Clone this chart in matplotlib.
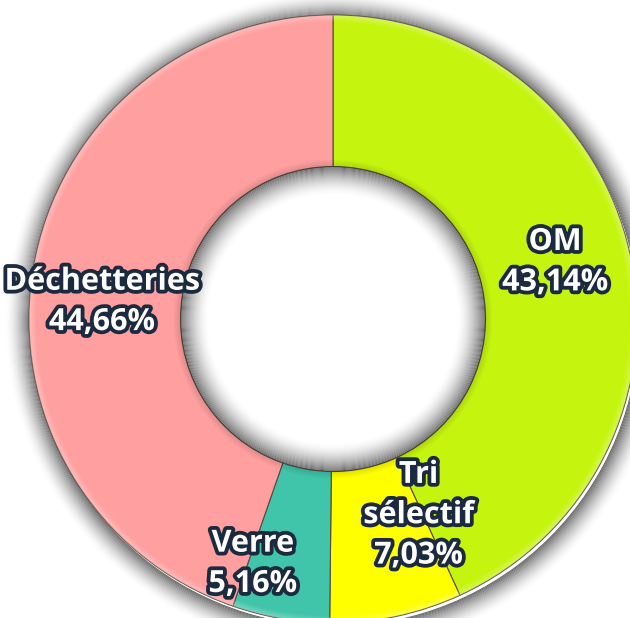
"""Donut chart: share of waste streams (OM, tri sélectif, verre, déchetteries)."""

import numpy as np
import matplotlib
matplotlib.use("Agg")
import matplotlib.pyplot as plt
import matplotlib.patheffects as pe
from matplotlib.patches import Annulus

# ------------------------------------------------------------------
# Data
# ------------------------------------------------------------------
categories = ["OM", "Tri\nsélectif", "Verre", "Déchetteries"]
shares = [43.14, 7.03, 5.16, 44.66]
colors = ["#c5f50f", "#ffff00", "#40c4aa", "#ff9f9f"]

# label nudges in pixels from the ring middle at each slice's mid-angle
nudges = [(-1, 8), (38, 27), (-41, -20), (-6, -21)]

W, H = 630, 618
CX, CY = 333, H - 319
R_OUT, R_IN = 304, 152.5

fig = plt.figure(figsize=(W / 100, H / 100), dpi=100)
ax = fig.add_axes([0, 0, 1, 1])

wedges, _ = ax.pie(
    shares,
    colors=colors,
    startangle=90,
    counterclock=False,
    radius=R_OUT,
    center=(CX, CY),
    wedgeprops=dict(width=R_OUT - R_IN, edgecolor="#5b4a40", linewidth=0.8),
    frame=True,
)
for w in wedges:
    w.set_zorder(2)

# soft outer drop shadow (thin rings fading outwards)
n_sh = 26
for k in range(n_sh):
    t = 1 - k / n_sh
    ax.add_patch(Annulus((CX + 2, CY - 3), R_OUT + k + 1, 1.0,
                         facecolor="black", edgecolor="none",
                         alpha=0.6 * t ** 1.8, zorder=1))

# bevel: light rim on the outer edge, darker rim on the inner edge
for k in range(7):
    t = 1 - k / 7
    ax.add_patch(Annulus((CX, CY), R_OUT - k, 1.0, facecolor="white",
                         edgecolor="none", alpha=0.3 * t, zorder=3))
    ax.add_patch(Annulus((CX, CY), R_IN + k + 1, 1.0, facecolor="black",
                         edgecolor="none", alpha=0.12 * t, zorder=3))

# inner shadow in the hole
n_in = 28
for k in range(n_in):
    t = 1 - k / n_in
    ax.add_patch(Annulus((CX, CY), R_IN - k, 1.0, facecolor="#333333",
                         edgecolor="none", alpha=0.75 * t ** 1.8, zorder=3))

ax.set_xlim(0, W)
ax.set_ylim(0, H)
ax.set_aspect("equal")
ax.axis("off")

# labels
stroke = [pe.withStroke(linewidth=5.5, foreground="#1c2a40")]
r_mid = (R_OUT + R_IN) / 2
for w, name, val, (dx, dy) in zip(wedges, categories, shares, nudges):
    ang = np.deg2rad((w.theta1 + w.theta2) / 2)
    x = CX + r_mid * np.cos(ang) + dx
    y = CY + r_mid * np.sin(ang) + dy
    txt = f"{name}\n{val:.2f}%".replace(".", ",")
    ax.text(x, y, txt, ha="center", va="center", fontsize=22,
            fontweight="bold", family="Open Sans", color="white",
            linespacing=1.45, path_effects=stroke, zorder=5)

fig.savefig("out.png", dpi=100)
